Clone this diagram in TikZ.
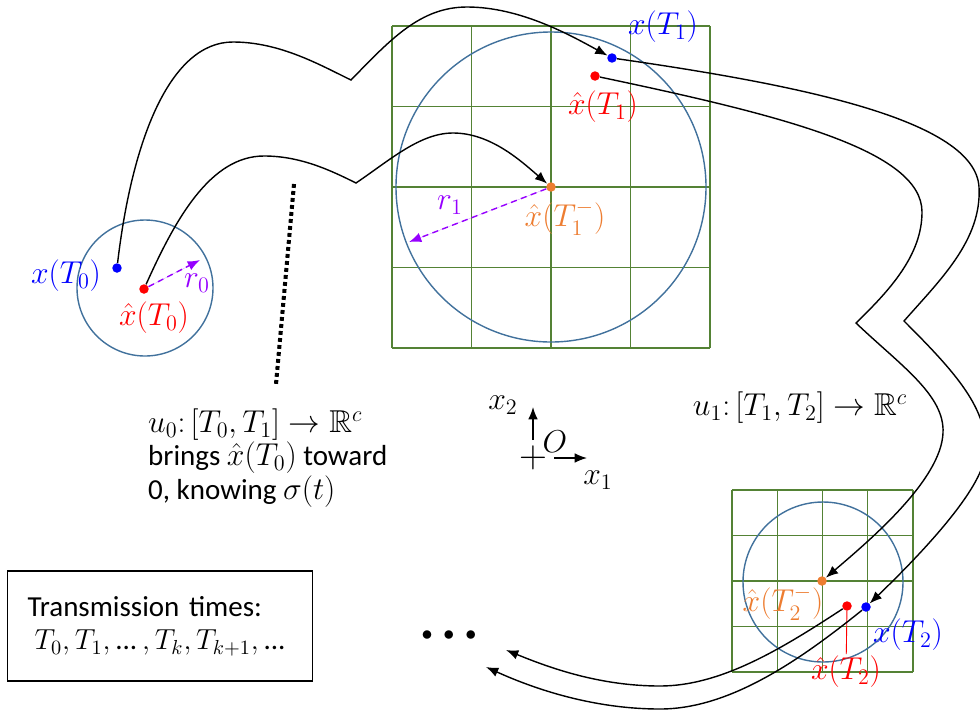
\RequirePackage{fix-cm}
\documentclass[tikz,border=0pt]{standalone}
\usepackage{amssymb}
\usepackage{fontspec}
\setmainfont{Carlito}
\usetikzlibrary{arrows.meta}
\definecolor{ballc}{RGB}{65,113,156}
\definecolor{gridc}{RGB}{84,130,53}
\definecolor{orangec}{RGB}{237,125,49}
\definecolor{purplec}{RGB}{150,0,255}
\newcommand{\mth}[1]{{\fontsize{18}{19}\selectfont$#1$}}
\begin{document}
\begin{tikzpicture}[x=0.02cm, y=-0.02cm, font=\fontsize{16.5}{19}\selectfont,
          >={Latex[length=7pt,width=5.5pt]},
          dot/.style={circle, inner sep=0pt, minimum size=5.4pt},
          mlab/.style={font=\fontsize{18}{21}\selectfont, inner sep=1pt},
          ball/.style={draw=ballc, line width=0.8pt},
          gridln/.style={draw=gridc, line width=0.75pt},
          traj/.style={->, line width=0.8pt},
          rad/.style={->, draw=purplec, fill=purplec, line width=0.8pt, dash pattern=on 3.5pt off 2.5pt},
          tbox/.style={draw, line width=1.1pt, text width=5.3cm, inner xsep=0.4cm, minimum height=2.2cm, align=left}]
        \useasboundingbox (0,0) rectangle (980,711);
        % grids
        \foreach \i in {0,...,4} {
          \draw[gridln] ({392+79.5*\i},26) -- ({392+79.5*\i},348);
          \draw[gridln] (392,{26+80.5*\i}) -- (710,{26+80.5*\i});
          \draw[gridln] ({732+45.25*\i},490) -- ({732+45.25*\i},672);
          \draw[gridln] (732,{490+45.5*\i}) -- (913,{490+45.5*\i});
        }
        % balls
        \draw[ball] (145,288) circle[radius=68];
        \draw[ball] (551,187) circle[radius=155];
        \draw[ball] (823,582) circle[radius=80];
        \draw[line width=2.3pt, dash pattern=on 2.2pt off 1.8pt] (294,184) -- (276,384);
        % states
        \node[dot, fill=blue] (x0) at (117,268) {};
        \node[dot, fill=red] (xh0) at (144,289) {};
        \node[dot, fill=blue] (x1) at (612,58) {};
        \node[dot, fill=red] (xh1) at (595,76) {};
        \node[dot, fill=orangec] (xh1m) at (551,187) {};
        \node[dot, fill=orangec] (xh2m) at (822,581) {};
        \node[dot, fill=red] (xh2) at (847,606) {};
        \node[dot, fill=blue] (x2) at (866,607) {};
        \node[mlab, text=blue] (lx0) at (66,276) {$x(T_0)$};
        \node[mlab, text=red] (lxh0) at (154,318) {$\hat{x}(T_0)$};
        \node[mlab, text=purplec] (lr0) at (197,283) {$r_0$};
        \node[mlab, text=blue] (lx1) at (663,27) {$x(T_1)$};
        \node[mlab, text=red] (lxh1) at (603,107) {$\hat{x}(T_1)$};
        \node[mlab, text=orangec] (lxh1m) at (565,218) {$\hat{x}(T_1^-)$};
        \node[mlab, text=purplec] (lr1) at (450,205) {$r_1$};
        \node[mlab, text=orangec] (lxh2m) at (783,603) {$\hat{x}(T_2^-)$};
        \node[mlab, text=blue] (lx2) at (908,635) {$x(T_2)$};
        \node[mlab, text=red] (lxh2) at (846,672) {$\hat{x}(T_2)$};
        % radii
        \coordinate (r0end) at (200,260);
        \coordinate (r1end) at (409,242);
        \draw[rad] (xh0) -- (r0end);
        \draw[rad] (xh1m) -- (r1end);
        \draw[red, line width=0.5pt] (xh2) -- (lxh2);
        % trajectories
        \draw[traj] (x0) .. controls (132,140) and (170,42) .. (233,42)
          .. controls (280,42) and (320,65) .. (351,80)
          .. controls (390,40) and (420,7) .. (467,7)
          .. controls (520,7) and (570,35) .. (x1);
        \draw[traj] (xh0) .. controls (175,220) and (210,156) .. (264,156)
          .. controls (300,156) and (330,170) .. (356,183)
          .. controls (390,160) and (420,133) .. (453,133)
          .. controls (490,133) and (520,160) .. (xh1m);
        \draw[traj] (x1) .. controls (800,85) and (975,120) .. (979,187)
          .. controls (982,240) and (940,280) .. (904,321)
          .. controls (955,372) and (990,410) .. (985,455)
          .. controls (982,490) and (920,555) .. (x2);
        \draw[traj] (xh1) .. controls (780,115) and (922,150) .. (922,212)
          .. controls (922,255) and (890,290) .. (856,323)
          .. controls (900,365) and (945,395) .. (943,433)
          .. controls (941,480) and (870,540) .. (xh2m);
        \coordinate (endE) at (506,650);
        \coordinate (endF) at (486,667);
        \draw[traj] (xh2) .. controls (780,650) and (720,686) .. (660,686)
          .. controls (600,686) and (550,668) .. (endE);
        \draw[traj] (x2) .. controls (800,660) and (730,709) .. (660,709)
          .. controls (590,709) and (530,687) .. (endF);
        % axes
        \node[font=\fontsize{22}{22}\selectfont, inner sep=0pt] (orig) at (533,458) {$+$};
        \coordinate (x2tip) at (533,407);
        \coordinate (x2base) at (533,440);
        \coordinate (x1base) at (554,458);
        \coordinate (x1tip) at (587,458);
        \draw[->, line width=0.8pt] (x2base) -- (x2tip);
        \draw[->, line width=0.8pt] (x1base) -- (x1tip);
        \node[mlab] (lO) at (555,442) {$O$};
        \node[mlab] (lax2) at (503,405) {$x_2$};
        \node[mlab] (lax1) at (598,480) {$x_1$};
        % texts
        \node[anchor=west, align=left] (u0) at (142,458) {\mth{u_0\colon[T_0,T_1]\to\mathbb{R}^c}\\brings \mth{\hat{x}(T_0)} toward\\0, knowing \mth{\sigma(t)}};
        \node (u1) at (800,408) {\mth{u_1\colon[T_1,T_2]\to\mathbb{R}^c}};
        \node[font=\fontsize{12.5}{13}\selectfont] (dots) at (449,636) {$\bullet\;\bullet\;\bullet$};
        \node[tbox] (times) at (160,626) {Transmission times:\\\hspace*{4pt}$T_0,T_1,\mbox{...}\,,T_k,T_{k+1},\mbox{...}$};
      \end{tikzpicture}
\end{document}
